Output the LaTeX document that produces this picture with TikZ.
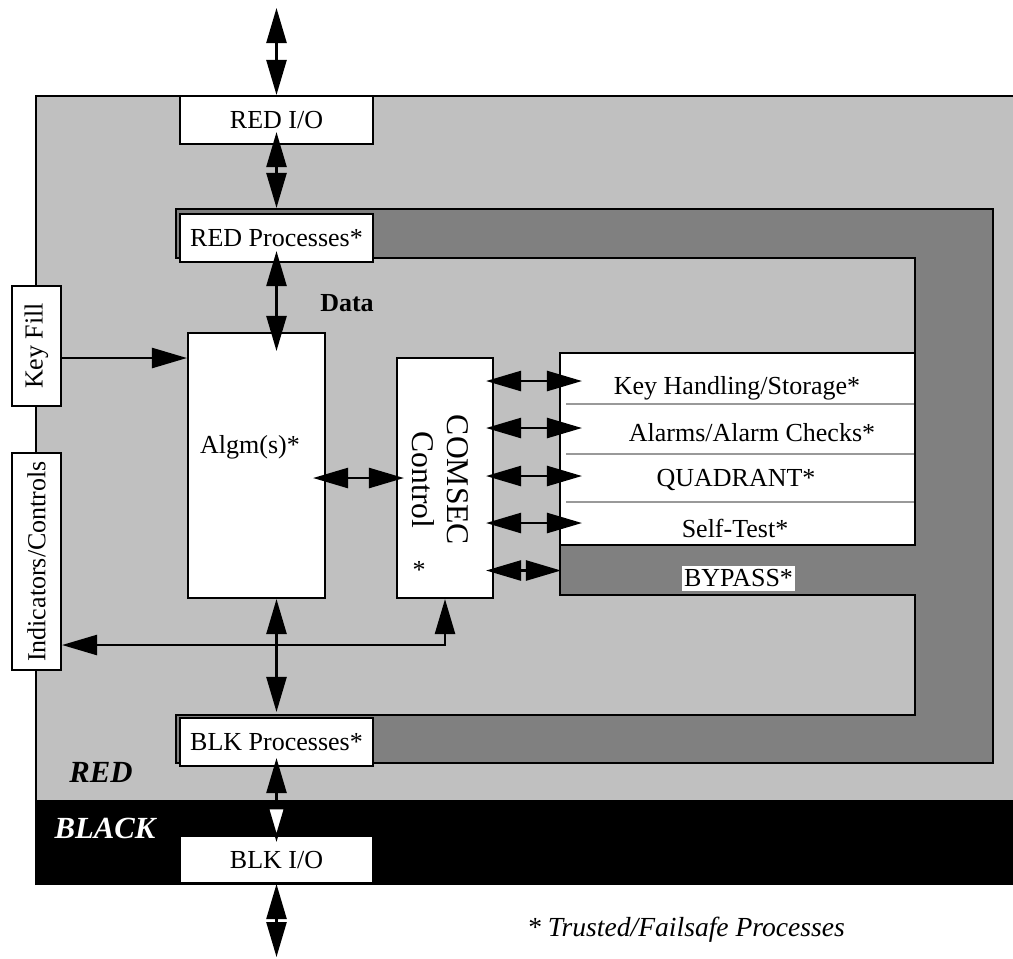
\documentclass[tikz,border=0pt]{standalone}
\usepackage{fontspec}
\setmainfont{Liberation Serif}
\usetikzlibrary{arrows.meta, positioning, calc}
\definecolor{redzone}{HTML}{C0C0C0}
\definecolor{trusted}{HTML}{808080}
\definecolor{rowrule}{HTML}{999999}

\begin{document}
\begin{tikzpicture}[
    x=0.02cm, y=-0.02cm,
    font=\fontsize{14.8pt}{17pt}\selectfont,
    >={Triangle[length=0.7cm, width=0.4cm]},
    box/.style={draw, fill=white, line width=1.2pt, inner sep=2pt},
    arrow/.style={<->, line width=1.4pt},
    zonelabel/.style={font=\fontsize{17.5pt}{20pt}\selectfont\bfseries\itshape}
]
\useasboundingbox (0,0) rectangle (1013,958);

% RED and BLACK zones
\fill[redzone] (36,96) rectangle (1013,800);
\fill[black] (36,800) rectangle (1013,885);
\draw[line width=1.2pt] (36,885) -- (36,96) -- (1013,96);

% trusted path
\draw[fill=trusted, line width=1.2pt] (176,209) -- (993,209) -- (993,763) -- (176,763)
    -- (176,715) -- (915,715) -- (915,595) -- (560,595) -- (560,353) -- (915,353)
    -- (915,258) -- (176,258) -- cycle;

% function list
\node[box, minimum width=7.1cm, minimum height=3.84cm] (list) at (737.5,449) {};
\foreach \y in {404,454,502}
    \draw[rowrule, line width=1.2pt] (566,\y) -- (914,\y);
\node (keyh) at (737,388) {Key Handling/Storage*};
\node (alarm) at (752,433) {Alarms/Alarm Checks*};
\node (quad) at (736,480) {QUADRANT*};
\node (selft) at (735,528) {Self-Test*};
\node[fill=white, inner xsep=1pt, inner ysep=2pt] (bypass) at (738.5,578.5) {BYPASS*};

% blocks
\node[box, minimum width=3.86cm, minimum height=0.96cm] (redio) at (276.5,120) {RED I/O};
\node[box, minimum width=3.86cm, minimum height=0.96cm] (redproc) at (276.5,238) {RED Processes*};
\node[box, minimum width=3.86cm, minimum height=0.96cm] (blkproc) at (276.5,742) {BLK Processes*};
\node[box, minimum width=3.86cm, minimum height=0.94cm] (blkio) at (276.5,859.5) {BLK I/O};

\node[box, minimum width=2.74cm, minimum height=5.3cm] (algm) at (256.5,465.5) {};
\node (algmtxt) at (250,447) {Algm(s)*};

\node[box, minimum width=1.92cm, minimum height=4.8cm] (comsec) at (445,478) {};
\node[rotate=-90, align=center, font=\fontsize{18pt}{20pt}\selectfont] (comsectxt) at (440,480) {COMSEC\\Control};
\node (comsecstar) at (419,570) {*};

\node[box, rotate=90, minimum width=2.4cm, minimum height=0.98cm] (keyfill) at (36.5,346) {Key Fill};
\node[box, rotate=90, minimum width=4.34cm, minimum height=0.98cm] (indic) at (36.5,561.5) {Indicators/Controls};

% data paths
\coordinate (topend) at (276.5,8);
\coordinate (botend) at (276.5,957);
\coordinate (corner) at (445,645);

\draw[arrow] (topend) -- (redio.north);
\draw[arrow, shorten <=-0.26cm, shorten >=0.1cm] (redio.south) -- (redproc.north);
\draw[arrow, shorten <=-0.24cm, shorten >=-0.38cm] (redproc.south) -- (redproc.south |- algm.north);
\draw[arrow, shorten >=0.1cm] (blkproc.north |- algm.south) -- (blkproc.north);
\draw[line width=1.4pt, {Triangle[length=0.7cm, width=0.4cm]}-{Triangle[length=0.7cm, width=0.4cm, fill=white]},
    shorten <=-0.18cm, shorten >=-0.14cm] (blkproc.south) -- (blkio.north);
\draw[arrow] (blkio.south) -- (botend);

\draw[->, line width=1.4pt] ($(keyfill.south)+(0,12)$) -- ($(keyfill.south -| algm.west)+(0,12)$);
\draw[arrow, shorten <=-0.26cm, shorten >=-0.16cm] (algm.east |- comsec) -- (comsec.west);
\draw[arrow] (indic.south |- corner) -- (corner) -- (comsec.south);

% control lines
\foreach \r/\d in {keyh/7, alarm/5, quad/4, selft/5}
    \draw[arrow, shorten <=-0.16cm, shorten >=-0.46cm]
        ($(\r -| comsec.east)+(0,-\d)$) -- ($(\r -| list.west)+(0,-\d)$);
\draw[arrow, shorten <=-0.16cm, shorten >=-0.04cm]
    ($(bypass -| comsec.east)+(0,-8)$) -- ($(bypass -| list.west)+(0,-8)$);

% labels
\node[font=\fontsize{14.8pt}{17pt}\selectfont\bfseries] (data) at (347,303) {Data};
\node[zonelabel] (redlbl) at (101,772) {RED};
\node[zonelabel, text=white] (blacklbl) at (105,828) {BLACK};
\node[font=\fontsize{15.7pt}{18pt}\selectfont\itshape] (legend) at (686,930) {* Trusted/Failsafe Processes};

\end{tikzpicture}
\end{document}
